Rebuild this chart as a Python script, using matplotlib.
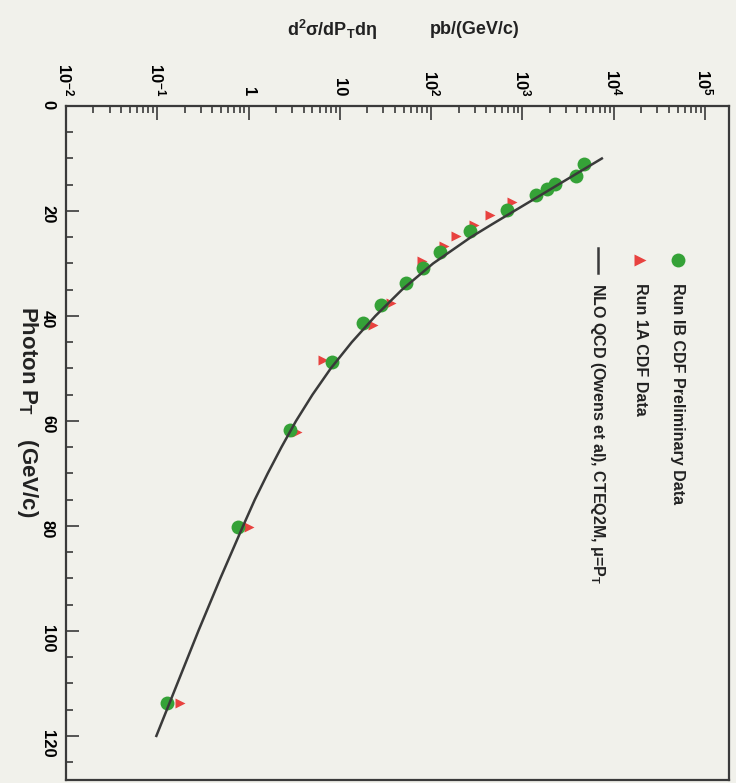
import numpy as np
import matplotlib
matplotlib.use("Agg")
import matplotlib.pyplot as plt
from matplotlib.ticker import MultipleLocator, LogLocator, NullFormatter

green_pt = [11.0, 13.3, 14.9, 15.8, 17.0, 19.8, 23.8, 27.8, 30.9, 33.7, 37.9, 41.3, 48.8, 61.7, 80.2, 113.7]
green_xsec = [4720, 3860, 2275, 1860, 1410, 678, 266, 125, 81.5, 53, 28.2, 17.9, 8.2, 2.84, 0.766, 0.128]

red_pt = [18.3, 20.8, 22.7, 24.8, 26.7, 29.5, 37.5, 41.7, 48.4, 62.1, 80.2, 113.7]
red_xsec = [769, 442, 294, 187, 138, 79.4, 36.0, 22.8, 6.53, 3.39, 1.02, 0.179]

nlo_pt = [10, 12.5, 15, 17.5, 20, 22.5, 25, 30, 35, 40, 45, 50, 55, 60, 65, 70, 75, 80, 90, 100, 110, 120]
nlo_xsec = [7413, 4266, 2455, 1413, 813, 468, 272, 105, 47.9, 24.5, 13.5, 7.94, 5.01, 3.31,
            2.29, 1.62, 1.17, 0.871, 0.490, 0.282, 0.166, 0.0977]

decade_ticks = [1e-2, 1e-1, 1, 10, 1e2, 1e3, 1e4, 1e5]
decade_labels = ["$10^{-2}$", "$10^{-1}$", "1", "10", "$10^{2}$", "$10^{3}$", "$10^{4}$", "$10^{5}$"]

legend_labels = ["Run IB CDF Preliminary Data", "Run 1A CDF Data",
                 "NLO QCD (Owens et al), CTEQ2M, μ=P$_{T}$"]

plt.rcParams["font.family"] = ["Liberation Sans", "DejaVu Sans"]
plt.rcParams["font.weight"] = "bold"
plt.rcParams["mathtext.fontset"] = "custom"
plt.rcParams["mathtext.rm"] = "Liberation Sans:bold"
plt.rcParams["mathtext.bf"] = "Liberation Sans:bold"
plt.rcParams["mathtext.it"] = "Liberation Sans:bold:italic"
plt.rcParams["mathtext.default"] = "bf"

bg = "#f1f1eb"
ink = "#3a3a3a"
green = "#35a237"
red = "#e8423f"

fig = plt.figure(figsize=(7.36, 7.83), dpi=100)
fig.patch.set_facecolor(bg)
ax = fig.add_axes([66 / 736, 3 / 783, 663 / 736, 674 / 783])
ax.set_facecolor(bg)

# the whole chart is rotated: pT runs downward, cross section to the right
ax.plot(red_xsec, red_pt, ">", color=red, ms=7, mec="none", zorder=3)
ax.plot(green_xsec, green_pt, "o", color=green, ms=10, mec="none", zorder=4)
ax.plot(nlo_xsec, nlo_pt, color=ink, lw=1.8, zorder=5)

ax.set_xscale("log")
ax.set_xlim(1e-2, 10 ** 5.263)
ax.set_ylim(128.4, 0)

ax.xaxis.tick_top()
ax.set_xticks(decade_ticks, labels=decade_labels)
ax.xaxis.set_minor_locator(LogLocator(base=10, subs=np.arange(2, 10)))
ax.xaxis.set_minor_formatter(NullFormatter())
ax.tick_params(axis="x", which="both", direction="in", top=True, bottom=False,
               labeltop=True, labelbottom=False, labelrotation=-90, color=ink, width=1.2)
ax.tick_params(axis="x", which="major", length=10, pad=7, labelsize=12)
ax.tick_params(axis="x", which="minor", length=5)

ax.yaxis.set_major_locator(MultipleLocator(20))
ax.yaxis.set_minor_locator(MultipleLocator(5))
ax.tick_params(axis="y", which="both", direction="in", left=True, right=False,
               labelrotation=-90, color=ink, width=1.2)
ax.tick_params(axis="y", which="major", length=9, pad=8, labelsize=12)
ax.tick_params(axis="y", which="minor", length=5)

for s in ax.spines.values():
    s.set_linewidth(1.6)
    s.set_color(ink)

# hand-made legend, rotated like the rest
tr = ax.transAxes
ax.plot([0.923], [0.772], "o", color=green, ms=10, mec="none", transform=tr, clip_on=False)
ax.plot([0.866], [0.772], ">", color=red, ms=9, mec="none", transform=tr, clip_on=False)
ax.plot([0.802, 0.802], [0.790, 0.752], color=ink, lw=1.8, transform=tr)
for xpos, lab in zip([0.923, 0.866, 0.802], legend_labels):
    ax.text(xpos, 0.738, lab, rotation=-90, ha="center", va="top",
            transform=tr, fontsize=11.5, color="#222222")

fig.text(377 / 736, 1 - 30 / 783, "d$^{2}$σ/dP$_{T}$dη", ha="right", va="center",
         fontsize=13, color="#222222")
fig.text(430 / 736, 1 - 30 / 783, "pb/(GeV/c)", ha="left", va="center",
         fontsize=13, color="#222222")
fig.text(27 / 736, 1 - 306 / 783, "Photon P$_{T}$    (GeV/c)", rotation=-90,
         ha="center", va="top", fontsize=16, color="#222222")

fig.savefig("out.png", dpi=100, facecolor=bg)
